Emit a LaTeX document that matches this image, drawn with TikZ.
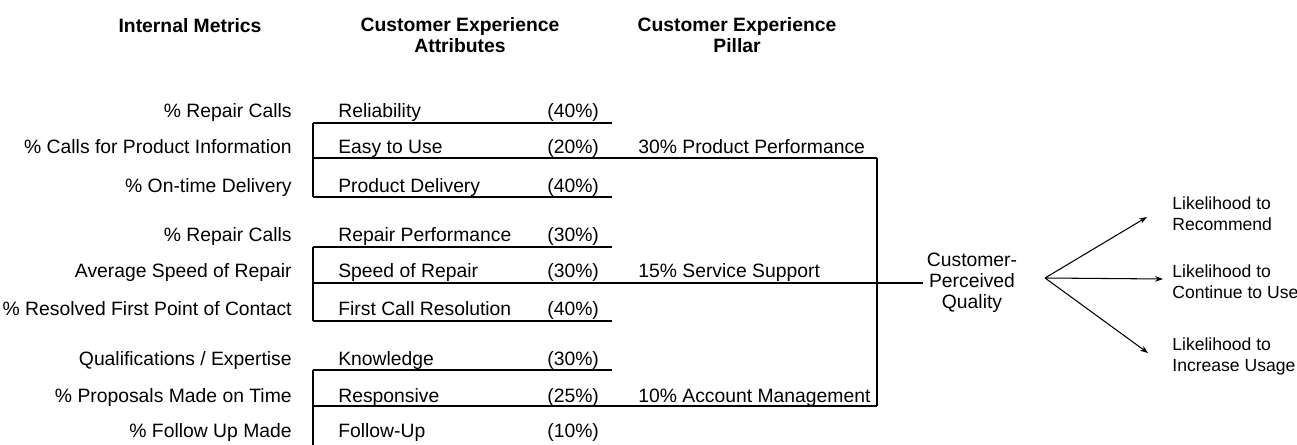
\documentclass[tikz,border=0pt]{standalone}
\usepackage{fontspec}
\setmainfont{Liberation Sans}
\usetikzlibrary{arrows.meta,positioning}

\begin{document}
\begin{tikzpicture}[x=0.02cm, y=-0.02cm,
    every node/.style={font=\fontsize{11}{12}\selectfont, inner sep=0pt},
    head/.style={font=\fontsize{11}{12}\selectfont\bfseries, align=center, anchor=base},
    metric/.style={anchor=base east},
    attr/.style={anchor=base west},
    outcome/.style={anchor=west, align=left, font=\fontsize{10}{12}\selectfont},
    rule/.style={line width=0.8pt},
    arr/.style={-{Stealth[length=4.5pt,width=3.2pt]}, line width=0.6pt}]
        \useasboundingbox (0,0) rectangle (1297,445);
        \node[head] (hmetric) at (190,33) {Internal Metrics};
        \node[head] (hattr) at (460,53) {Customer Experience\\Attributes};
        \node[head] (hpillar) at (737,53) {Customer Experience\\Pillar};

        \node[metric] (m1) at (292,118) {\% Repair Calls};
        \node[metric] (m2) at (292,154) {\% Calls for Product Information};
        \node[metric] (m3) at (292,193) {\% On-time Delivery};
        \node[metric] (m4) at (292,242) {\% Repair Calls};
        \node[metric] (m5) at (292,278) {Average Speed of Repair};
        \node[metric] (m6) at (292,316) {\% Resolved First Point of Contact};
        \node[metric] (m7) at (292,366) {Qualifications / Expertise};
        \node[metric] (m8) at (292,402) {\% Proposals Made on Time};
        \node[metric] (m9) at (292,438) {\% Follow Up Made};

        \node[attr] (a1) at (338,118) {Reliability};
        \node[attr] (a2) at (338,154) {Easy to Use};
        \node[attr] (a3) at (338,193) {Product Delivery};
        \node[attr] (a4) at (338,242) {Repair Performance};
        \node[attr] (a5) at (338,278) {Speed of Repair};
        \node[attr] (a6) at (338,316) {First Call Resolution};
        \node[attr] (a7) at (338,366) {Knowledge};
        \node[attr] (a8) at (338,402) {Responsive};
        \node[attr] (a9) at (338,438) {Follow-Up};

        \node[attr] (w1) at (547,118) {(40\%)};
        \node[attr] (w2) at (547,154) {(20\%)};
        \node[attr] (w3) at (547,193) {(40\%)};
        \node[attr] (w4) at (547,242) {(30\%)};
        \node[attr] (w5) at (547,278) {(30\%)};
        \node[attr] (w6) at (547,316) {(40\%)};
        \node[attr] (w7) at (547,366) {(30\%)};
        \node[attr] (w8) at (547,402) {(25\%)};
        \node[attr] (w9) at (547,438) {(10\%)};

        \node[attr] (p1) at (638,154) {30\% Product Performance};
        \node[attr] (p2) at (638,278) {15\% Service Support};
        \node[attr] (p3) at (638,402) {10\% Account Management};

        \draw[rule] (313,123) -- (612,123);
        \draw[rule] (313,158) -- (877,158);
        \draw[rule] (313,197) -- (612,197);
        \draw[rule] (313,123) -- (313,197);

        \draw[rule] (313,247) -- (612,247);
        \draw[rule] (313,321) -- (612,321);
        \draw[rule] (313,247) -- (313,321);

        \draw[rule] (313,370) -- (612,370);
        \draw[rule] (313,406) -- (877,406);
        \draw[rule] (313,370) -- (313,445);

        \draw[rule] (877,158) -- (877,406);

        \node[align=center, inner sep=2pt] (cpq) at (972,283) {Customer-\\Perceived\\Quality};
        \draw[rule] (313,283) -- (cpq.west);

        \node[outcome] (rec) at (1172,214) {Likelihood to\\Recommend};
        \node[outcome] (cont) at (1172,282) {Likelihood to\\Continue to Use};
        \node[outcome] (incr) at (1172,356) {Likelihood to\\Increase Usage};

        \coordinate (fork) at (1045,278);
        \coordinate (tiprec) at (1147,217);
        \coordinate (tipcont) at (1163,279);
        \coordinate (tipincr) at (1148,353);
        \draw[arr] (fork) -- (tiprec);
        \draw[arr] (fork) -- (tipcont);
        \draw[arr] (fork) -- (tipincr);
    \end{tikzpicture}
\end{document}
